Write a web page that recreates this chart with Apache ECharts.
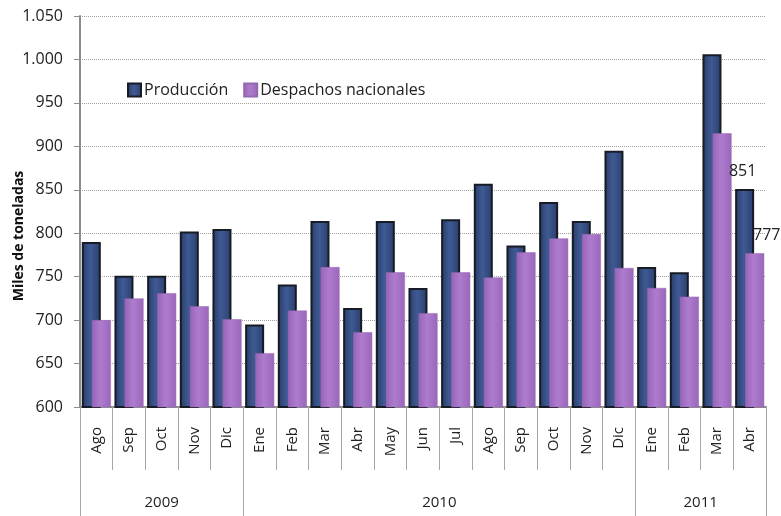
<!DOCTYPE html>
<html>
<head>
<meta charset="utf-8">
<script src="https://cdn.jsdelivr.net/npm/echarts@6/dist/echarts.min.js"></script>
<style>
  html, body { margin: 0; padding: 0; background: #fff; }
  #chart { width: 781px; height: 516px; }
</style>
</head>
<body>
<div id="chart"></div>
<script>
// meses (Ago 2009 - Abr 2011)
var months = ['Ago', 'Sep', 'Oct', 'Nov', 'Dic',
  'Ene', 'Feb', 'Mar', 'Abr', 'May', 'Jun', 'Jul', 'Ago', 'Sep', 'Oct', 'Nov', 'Dic',
  'Ene', 'Feb', 'Mar', 'Abr'];
var years = ['2009', '2010', '2011'];
var yearSpans = [5, 12, 4]; // meses por año

var produccion = [790, 751, 751, 802, 805,
  695, 741, 814, 714, 814, 737, 816, 857, 786, 836, 814, 895,
  761, 755, 1006, 851];
var despachos = [700, 725, 731, 716, 701,
  662, 711, 761, 686, 755, 708, 755, 749, 778, 794, 799, 760,
  737, 727, 915, 777];

var yTicks = { min: 600, max: 1050, step: 50 };
var yTitle = 'Miles de toneladas';

// eje de años: medias posiciones entre meses
var yearAxisData = [];
for (var i = 0; i <= months.length * 2; i++) yearAxisData.push('');
var yearLabelIdx = [], yearTickIdx = [0];
var acc = 0;
years.forEach(function (y, k) {
  var mid = (acc * 2) + yearSpans[k];
  yearAxisData[mid] = y;
  yearLabelIdx.push(mid);
  acc += yearSpans[k];
  yearTickIdx.push(acc * 2);
});

var font = 'Open Sans';
var last = months.length - 1;

function withLastLabel(arr, offset) {
  return arr.map(function (v, i) {
    if (i !== last) return v;
    return {
      value: v,
      label: {
        show: true, position: 'top', offset: offset,
        color: '#222', fontFamily: font, fontSize: 16
      }
    };
  });
}

var chart = echarts.init(document.getElementById('chart'), null, { renderer: 'canvas' });

var option = {
  animation: false,
  textStyle: { fontFamily: font },
  grid: { left: 80, right: 15, top: 16, bottom: 109, outerBoundsMode: 'none', containLabel: false },
  // título del eje Y (algo más abajo que el centro, como en el original)
  graphic: [{
    type: 'text',
    x: 19, y: 236,
    rotation: Math.PI / 2,
    style: {
      text: yTitle, fill: '#111',
      font: 'bold 14px "Open Sans"',
      textAlign: 'center', textVerticalAlign: 'middle'
    }
  }],
  legend: {
    left: 122, top: 77,
    itemWidth: 13, itemHeight: 13, itemGap: 15,
    icon: 'rect',
    textStyle: { color: '#222', fontSize: 16, fontFamily: font, padding: [0, 0, 0, -2] },
    data: ['Producción', 'Despachos nacionales']
  },
  xAxis: [{
    type: 'category',
    data: months,
    position: 'bottom',
    axisLine: { show: true, lineStyle: { color: '#8c8c8c', width: 2 } },
    axisTick: { show: true, interval: 0, length: 63, lineStyle: { color: '#a6a6a6' } },
    axisLabel: { interval: 0, rotate: 90, margin: 20, color: '#222', fontSize: 15, fontFamily: font },
    splitLine: { show: false }
  }, {
    type: 'category',
    data: yearAxisData,
    position: 'bottom',
    boundaryGap: false,
    axisLine: { show: false },
    axisTick: {
      show: true, length: 109, lineStyle: { color: '#a6a6a6' },
      interval: function (idx) { return yearTickIdx.indexOf(idx) >= 0; }
    },
    axisLabel: {
      margin: 88, color: '#222', fontSize: 15, fontFamily: font,
      interval: function (idx) { return yearLabelIdx.indexOf(idx) >= 0; }
    }
  }],
  yAxis: {
    type: 'value',
    min: yTicks.min, max: yTicks.max, interval: yTicks.step,
    axisLine: { show: true, lineStyle: { color: '#8c8c8c', width: 2 } },
    axisTick: { show: true, length: 6, lineStyle: { color: '#8c8c8c' } },
    axisLabel: {
      color: '#222', fontSize: 16, fontFamily: font, margin: 17,
      formatter: function (v) { return v >= 1000 ? Math.floor(v / 1000) + '.' + String(v % 1000).padStart(3, '0') : v; }
    },
    splitLine: { show: true, lineStyle: { color: '#a0a0a0', type: 'dotted', width: 1 } }
  },
  series: [{
    name: 'Producción',
    type: 'bar',
    barWidth: 19,
    barGap: '-47%',
    data: withLastLabel(produccion, [-2, -4]),
    itemStyle: {
      color: new echarts.graphic.LinearGradient(0, 0, 1, 0, [
        { offset: 0, color: '#283b66' },
        { offset: 0.45, color: '#3f5a94' },
        { offset: 1, color: '#2a3e6c' }
      ]),
      borderColor: '#171b24',
      borderWidth: 2
    }
  }, {
    name: 'Despachos nacionales',
    type: 'bar',
    barWidth: 19,
    data: withLastLabel(despachos, [12, -5]),
    itemStyle: {
      color: new echarts.graphic.LinearGradient(0, 0, 1, 0, [
        { offset: 0, color: '#9763b6' },
        { offset: 0.45, color: '#ae7ccf' },
        { offset: 1, color: '#9a66ba' }
      ]),
      borderColor: '#9468ad',
      borderWidth: 0.5
    }
  }]
};

chart.setOption(option);
</script>
</body>
</html>
